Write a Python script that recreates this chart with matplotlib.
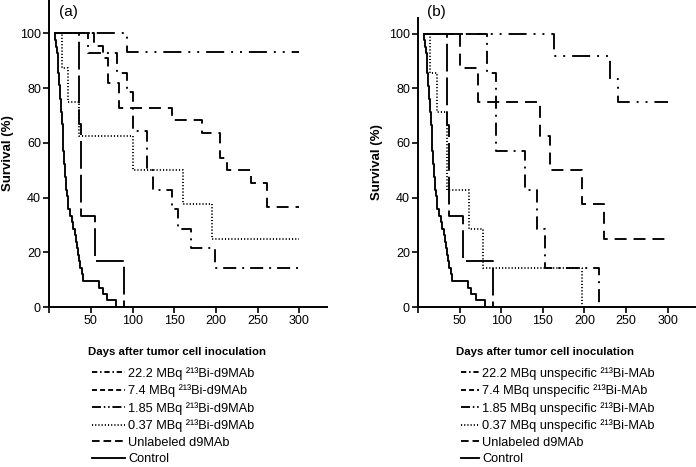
import matplotlib
matplotlib.use("Agg")
import matplotlib.pyplot as plt
from matplotlib.lines import Line2D

plt.rcParams['font.family'] = ['Liberation Sans', 'DejaVu Sans']
plt.rcParams['lines.scale_dashes'] = False

# ---------------- data (days, survival %) ----------------
control_days = [6, 7, 8, 9, 10, 11, 12, 13, 14, 15, 16, 17, 18, 19, 20, 21, 22, 23, 25, 27,
                29, 31, 32, 33, 34, 36, 37, 39, 40, 60, 64, 69, 80]
control_surv = [100, 97.6, 95.2, 92.9, 88.1, 85.7, 81.0, 76.2, 71.4, 66.7, 61.9, 57.1, 52.4,
                47.6, 42.9, 40.5, 38.1, 35.7, 33.3, 31.0, 28.6, 26.2, 23.8, 21.4, 19.0, 16.7,
                14.3, 11.9, 9.5, 7.1, 4.8, 2.4, 0]

a_unl_days = [6, 35.5, 38, 54.5, 89.5]
a_unl_surv = [100, 66.7, 33.3, 16.7, 0]
a_222_days = [6, 47, 81, 93, 100, 117, 125, 147, 155, 170, 199, 300]
a_222_surv = [100, 92.9, 85.7, 78.6, 64.3, 50.0, 42.9, 35.7, 28.6, 21.4, 14.3, 14.3]
a_74_days = [6, 54, 64, 71, 84, 147, 183, 205, 213, 242, 261, 300]
a_74_surv = [100, 95.5, 90.9, 81.8, 72.7, 68.2, 63.6, 54.5, 50.0, 45.5, 36.4, 36.4]
a_185_days = [6, 93, 300]
a_185_surv = [100, 93.3, 93.3]
a_037_days = [6, 15, 23, 36, 100, 161, 195, 300]
a_037_surv = [100, 87.5, 75.0, 62.5, 50.0, 37.5, 25.0, 25.0]

b_unl_days = [6, 34.5, 37, 54, 89.5]
b_unl_surv = [100, 66.7, 33.3, 16.7, 0]
b_222_days = [6, 83, 93, 129, 143, 152, 218]
b_222_surv = [100, 85.7, 57.1, 42.9, 28.6, 14.3, 0]
b_74_days = [6, 50, 72, 147, 159, 197, 224, 300]
b_74_surv = [100, 87.5, 75.0, 62.5, 50.0, 37.5, 25.0, 25.0]
b_185_days = [6, 163, 231, 240, 300]
b_185_surv = [100, 91.7, 83.3, 75.0, 75.0]
b_037_days = [6, 14, 23, 35, 61, 78, 197]
b_037_surv = [100, 85.7, 71.4, 42.9, 28.6, 14.3, 0]

a_labels = ["22.2 MBq ²¹³Bi-d9MAb", "7.4 MBq ²¹³Bi-d9MAb",
            "1.85 MBq ²¹³Bi-d9MAb", "0.37 MBq ²¹³Bi-d9MAb",
            "Unlabeled d9MAb", "Control"]
b_labels = ["22.2 MBq unspecific ²¹³Bi-MAb", "7.4 MBq unspecific ²¹³Bi-MAb",
            "1.85 MBq unspecific ²¹³Bi-MAb", "0.37 MBq unspecific ²¹³Bi-MAb",
            "Unlabeled d9MAb", "Control"]

x_ticks = [0, 50, 100, 150, 200, 250, 300]
x_ticklabels = ["", "50", "100", "150", "200", "250", "300"]
y_ticks = [0, 20, 40, 60, 80, 100]

# ---------------- styles ----------------
LW = 1.35
plot_styles = [
    dict(dashes=[9.4, 4.3, 1.4, 4.3]),                 # 22.2
    dict(dashes=[8.6, 5.0]),                           # 7.4
    dict(dashes=[13, 5, 1.4, 5, 1.4, 5]),              # 1.85
    dict(dashes=[0.8, 1.5]),                           # 0.37
    dict(dashes=[20, 4.3]),                            # unlabeled
    dict(linestyle='-'),                               # control
]
legend_styles = [
    dict(dashes=[3.8, 2.0, 1.1, 2.0]),
    dict(dashes=[3.6, 2.2]),
    dict(dashes=[6.5, 2.0, 1.1, 2.0, 1.1, 2.0]),
    dict(dashes=[0.8, 1.5]),
    dict(dashes=[5.5, 2.8]),
    dict(linestyle='-'),
]

W, H = 696, 467
fig = plt.figure(figsize=(W / 100, H / 100), dpi=100)

axA = fig.add_axes([49.3 / W, 160 / H, 277.4 / W, 307 / H])
axB = fig.add_axes([418.3 / W, 160 / H, 276.7 / W, 289 / H])


def draw(ax, series, ytop):
    for (d, s), st in zip(series, plot_styles):
        ax.step(d, s, where='post', color='black', lw=LW,
                dash_capstyle='butt', solid_capstyle='butt', **st)
    ax.set_xlim(0, 333)
    ax.set_ylim(0, ytop)
    ax.spines['top'].set_visible(False)
    ax.spines['right'].set_visible(False)
    for sp in ('left', 'bottom'):
        ax.spines[sp].set_linewidth(1.4)
    ax.set_xticks(x_ticks)
    ax.set_xticklabels(x_ticklabels)
    ax.set_yticks(y_ticks)
    ax.tick_params(direction='out', length=4, width=1.2, labelsize=9, pad=2)
    ax.set_xlabel("Days after tumor cell inoculation", fontsize=8.2, fontweight='bold')
    ax.xaxis.set_label_coords(153 / 333, -40 / (ytop * 2.735))
    ax.set_ylabel("Survival (%)", fontsize=9.5, fontweight='bold', labelpad=4)


draw(axA, [(a_222_days, a_222_surv), (a_74_days, a_74_surv), (a_185_days, a_185_surv),
           (a_037_days, a_037_surv), (a_unl_days, a_unl_surv), (control_days, control_surv)], 112.2)
draw(axB, [(b_222_days, b_222_surv), (b_74_days, b_74_surv), (b_185_days, b_185_surv),
           (b_037_days, b_037_surv), (b_unl_days, b_unl_surv), (control_days, control_surv)], 105.7)

fig.text(59 / W, 1 - 12 / H, "(a)", fontsize=11, ha='left', va='center')
fig.text(427 / W, 1 - 12 / H, "(b)", fontsize=11, ha='left', va='center')

handles = [Line2D([], [], color='black', lw=LW, dash_capstyle='butt', **st) for st in legend_styles]

fig.legend(handles, a_labels, loc='upper left', bbox_to_anchor=(92 / W, 1 - 367 / H),
           frameon=False, fontsize=9.2, handlelength=2.6, handletextpad=0.25,
           labelspacing=0.36, borderpad=0, borderaxespad=0)
fig.legend(handles, b_labels, loc='upper left', bbox_to_anchor=(461 / W, 1 - 367 / H),
           frameon=False, fontsize=9.2, handlelength=1.4, handletextpad=0.25,
           labelspacing=0.36, borderpad=0, borderaxespad=0)

fig.savefig("out.png", dpi=100)
